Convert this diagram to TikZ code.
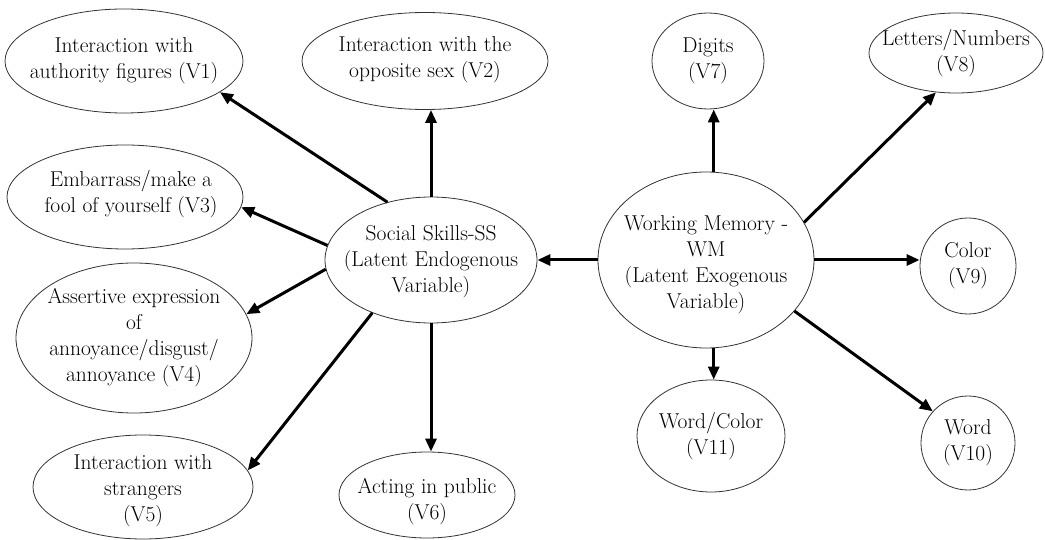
\documentclass[tikz,border=0pt]{standalone}
\usetikzlibrary{arrows.meta,shapes.geometric,calc}
\begin{document}
\begin{tikzpicture}[x=1pt,y=-1pt,
  el/.style={ellipse,draw=black!80,line width=0.8pt,inner sep=0pt},
  txt/.style={align=center,inner sep=0pt,font=\fontsize{21.5}{26}\selectfont,text=black},
  arr/.style={line width=3pt,-{Triangle[length=13pt,width=11pt]}}]
\useasboundingbox (0,0) rectangle (1045,540);
% Social skills side
\node[el,minimum width=238pt,minimum height=104pt,label={[txt]center:{Interaction with\\authority figures (V1)}}] (v1) at (124,61) {};
\node[el,minimum width=246pt,minimum height=97pt,label={[txt,yshift=1pt]center:{Interaction with the\\opposite sex (V2)}}] (v2) at (425,61) {};
\node[el,minimum width=236pt,minimum height=104pt,label={[txt,xshift=6pt,yshift=3pt]center:{Embarrass/make a\\fool of yourself (V3)}}] (v3) at (125,197) {};
\node[el,minimum width=236pt,minimum height=150pt,label={[txt]center:{Assertive expression\\of\\annoyance/disgust/\\annoyance (V4)}}] (v4) at (134,338) {};
\node[el,minimum width=220pt,minimum height=104pt,label={[txt,yshift=-4pt]center:{Interaction with\\strangers\\(V5)}}] (v5) at (143,487) {};
\node[el,minimum width=176pt,minimum height=86pt,label={[txt,yshift=-7pt]center:{Acting in public\\(V6)}}] (v6) at (427,495) {};
\node[el,minimum width=212pt,minimum height=126pt,label={[txt,yshift=-2pt]center:{Social Skills-SS\\(Latent Endogenous\\Variable)}}] (ss) at (431,260) {};
% Working memory side
\node[el,minimum width=216pt,minimum height=176pt,label={[txt,yshift=-5pt]center:{Working Memory -\\WM\\(Latent Exogenous\\Variable)}}] (wm) at (706,260) {};
\node[el,minimum width=112pt,minimum height=96pt,label={[txt]center:{Digits\\(V7)}}] (v7) at (708,61) {};
\node[el,minimum width=174pt,minimum height=80pt,label={[txt]center:{Letters/Numbers\\(V8)}}] (v8) at (956,53) {};
\node[el,minimum width=96pt,minimum height=96pt,label={[txt]center:{Color\\(V9)}}] (v9) at (968,266) {};
\node[el,minimum width=94pt,minimum height=94pt,label={[txt]center:{Word\\(V10)}}] (v10) at (968,443) {};
\node[el,minimum width=148pt,minimum height=112pt,label={[txt]center:{Word/Color\\(V11)}}] (v11) at (711,436) {};
% arrows
\draw[arr] (ss.127.5) -- (v1.-18.6);
\draw[arr] (ss.north) -- (ss.north |- v2.south);
\draw[arr] (ss.172.9) -- (v3.-5.5);
\draw[arr] (ss.185.5) -- (v4.12.8);
\draw[arr] (ss.222.4) -- (v5.9.5);
\draw[arr] (ss.south) -- (ss.south |- v6.north);
\draw[arr] (wm.west) -- (ss.east);
\draw[arr] (wm.85.5) -- (wm.85.5 |- v7.south);
\draw[arr] (wm.21) -- (v8.243.4);
\draw[arr] (wm.east) -- (wm.east -| v9.west);
\draw[arr] (wm.-30.3) -- (v10.138.8);
\draw[arr] (wm.-85.5) -- (wm.-85.5 |- v11.north);
\end{tikzpicture}
\end{document}
